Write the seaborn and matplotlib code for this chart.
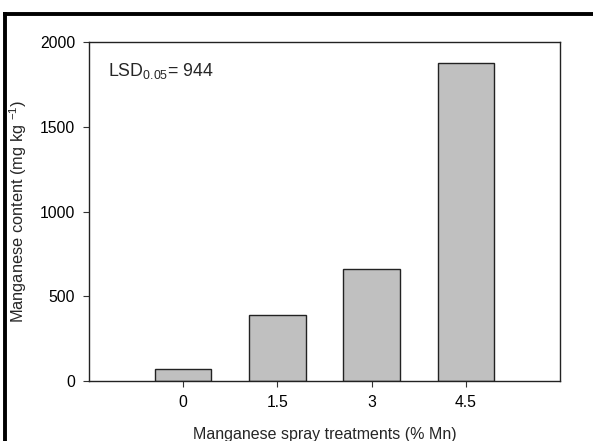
import matplotlib
matplotlib.use("Agg")
import matplotlib.pyplot as plt
import seaborn as sns
import pandas as pd
from matplotlib.lines import Line2D

categories = ["0", "1.5", "3", "4.5"]
mn_content = [69, 388, 659, 1874]
y_ticks = [0, 500, 1000, 1500, 2000]

sns.set_style("ticks")
plt.rcParams["font.family"] = ["Liberation Sans", "DejaVu Sans"]
plt.rcParams["mathtext.fontset"] = "custom"
plt.rcParams["mathtext.rm"] = "Liberation Sans"
plt.rcParams["mathtext.it"] = "Liberation Sans"

df = pd.DataFrame({"treatment": categories, "mn": mn_content})

fig = plt.figure(figsize=(5.93, 4.41), dpi=100)
ax = fig.add_axes([89/593, 60/441, 471/593, 339/441])

sns.barplot(data=df, x="treatment", y="mn", order=categories, color="#c0c0c0",
            saturation=1, width=0.6, edgecolor="#222222", linewidth=1.0, ax=ax)

ax.set_xlim(-1, 4)
ax.set_ylim(0, 2000)
ax.set_yticks(y_ticks)
ax.tick_params(axis="both", direction="out", length=4, width=0.8, labelsize=11.3,
               colors="#333333", labelcolor="black", pad=6)
for s in ax.spines.values():
    s.set_visible(True)
    s.set_linewidth(1.0)
    s.set_color("#222222")

ax.set_xlabel("Manganese spray treatments (% Mn)", fontsize=11.5, labelpad=12)
ax.set_ylabel(r"Manganese content (mg kg $^{\mathregular{-1}}$)", fontsize=11.8, labelpad=8)

ax.text(0.04, 0.914, r"LSD$_{\mathregular{0.05}}$= 944", transform=ax.transAxes,
        fontsize=12.8, va="center", ha="left")

# thick black border lines at top and left of figure
fig.add_artist(Line2D([3/593, 1.0], [1 - 13.5/441, 1 - 13.5/441], color="black",
                      linewidth=2.8, transform=fig.transFigure, solid_capstyle="butt"))
fig.add_artist(Line2D([5/593, 5/593], [0.0, 1 - 12/441], color="black",
                      linewidth=2.8, transform=fig.transFigure, solid_capstyle="butt"))

fig.savefig("out.png", dpi=100)
